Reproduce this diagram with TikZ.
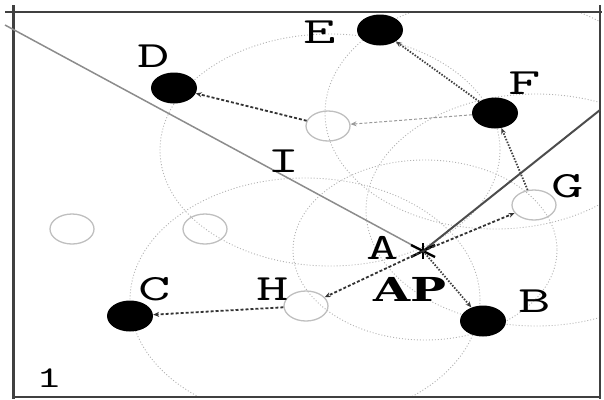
\documentclass[tikz,border=0pt]{standalone}
\usepackage{fontspec}
\newfontfamily\apfont{DejaVu Serif}
\usepackage{graphicx}
\usetikzlibrary{arrows.meta, shapes.geometric}
\newcommand{\wide}[1]{\scalebox{1.7}[1]{#1}}

\begin{document}
\begin{tikzpicture}[x=1pt, y=-1pt,
  blk/.style={ellipse, fill=black, minimum width=46pt, minimum height=31pt, inner sep=0pt},
  hol/.style={ellipse, draw=black!25, line width=1.3pt, minimum width=44pt, minimum height=30pt, inner sep=0pt},
  lbl/.style={font=\fontsize{37}{37}\selectfont\ttfamily, inner sep=0pt},
  rng/.style={draw=black!30, line width=0.9pt, dash pattern=on 1pt off 2pt},
  arr/.style={-{Stealth[length=6pt, width=5pt]}, line width=1.8pt, black!80, dash pattern=on 3pt off 2pt},
  dot/.style={-{Stealth[length=6pt, width=5pt]}, line width=1.8pt, black!75, dash pattern=on 1.5pt off 1.5pt},
  frm/.style={line width=2pt, black!75}
]
\useasboundingbox (0,0) rectangle (604,399);

% range circles
\begin{scope}
  \clip (13,12) rectangle (600,397);
  \draw[rng] (330,150) ellipse [x radius=170, y radius=116];
  \draw[rng] (495,113) ellipse [x radius=170, y radius=116];
  \draw[rng] (305,300) ellipse [x radius=175, y radius=122];
  \draw[rng] (536,210) ellipse [x radius=170, y radius=116];
  \draw[rng] (425,250) ellipse [x radius=132, y radius=90];
\end{scope}

% frame and walls
\draw[frm, line width=3pt] (13,5) -- (13,399);
\draw[frm] (5,12) -- (602,12);
\draw[frm] (600,5) -- (600,399);
\draw[frm, line width=1.5pt] (13,397) -- (600,397);

% nodes
\node[blk] (D) at (174,88) {};
\node[blk] (E) at (380,30) {};
\node[blk] (F) at (495,113) {};
\node[blk] (C) at (130,316) {};
\node[blk] (B) at (483,321) {};
\node[hol] (I) at (328,126) {};
\node[hol] (G) at (534,205) {};
\node[hol] (H) at (306,306) {};
\node[hol] (L1) at (72,229) {};
\node[hol] (L2) at (205,229) {};
\coordinate (A) at (423,251);
\coordinate (w1) at (5,25);
\coordinate (w2) at (600,110);

\draw[black!45, line width=1.5pt] (w1) -- (A);
\draw[black!70, line width=2pt] (A) -- (w2);

% star
\draw[line width=2.4pt] ([yshift=-8]A) -- ([yshift=8]A);
\draw[line width=2.4pt] ([shift={(-12,-6)}]A) -- ([shift={(12,6)}]A);
\draw[line width=2.4pt] ([shift={(-12,6)}]A) -- ([shift={(12,-6)}]A);

% moves
\draw[arr] (A) -- (G);
\draw[dot] (G) -- (F);
\draw[dot] (F) -- (E);
\draw[arr, black!40, line width=1pt] (F) -- (I);
\draw[arr] (I) -- (D);
\draw[arr] (A) -- (H);
\draw[arr] (H) -- (C);
\draw[dot] (A) -- (B);

% labels
\node[lbl] (tD) at (154,56) {\wide{D}};
\node[lbl] (tE) at (320,32) {\wide{E}};
\node[lbl] (tF) at (525,83) {\wide{F}};
\node[lbl] (tG) at (568,186) {\wide{G}};
\node[lbl] (tH) at (273,289) {\wide{H}};
\node[lbl] (tC) at (155,289) {\wide{C}};
\node[lbl] (tB) at (535,301) {\wide{B}};
\node[lbl] (tA) at (383,248) {\wide{A}};
\node[lbl, font=\fontsize{33}{33}\selectfont\apfont\bfseries] (tAP) at (410,289) {\scalebox{1.45}[1]{AP}};
\node[lbl] (tI) at (284,161) {\wide{I}};
\node[lbl, font=\fontsize{30}{30}\selectfont\ttfamily] (t1) at (49,378) {\wide{1}};
\end{tikzpicture}
\end{document}
